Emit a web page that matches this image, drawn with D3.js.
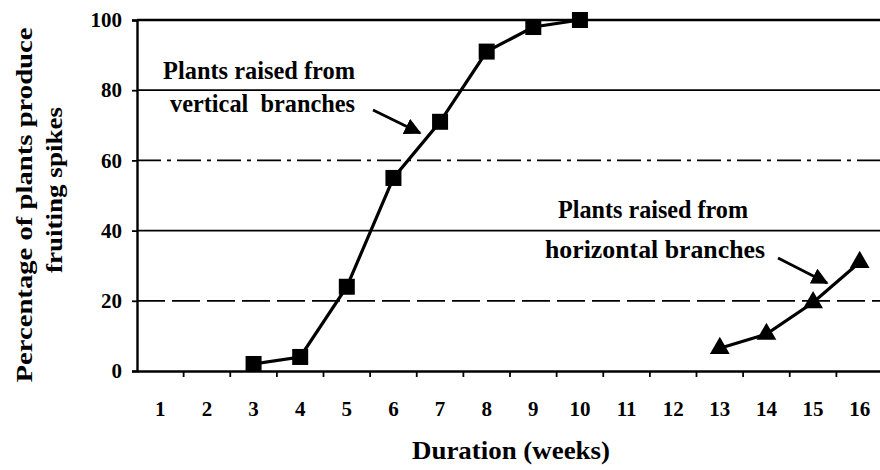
<!DOCTYPE html>
<html lang="en">
<head>
  <meta charset="UTF-8" />
  <title>Fruiting spikes vs duration</title>
  <script src="https://d3js.org/d3.v7.min.js"></script>
  <style>
    body { margin: 0; background: #fff; }
    svg text { font-family: "Liberation Serif", "Times New Roman", serif; font-weight: bold; fill: #000; }
  </style>
</head>
<body>
  <div id="chart"></div>
  <script>
    // ----- Data -----
    const weeks = d3.range(1, 17);
    const verticalWeeks  = [3, 4, 5, 6, 7, 8, 9, 10];
    const verticalPct    = [2, 4, 24, 55, 71, 91, 98, 100];
    const horizontalWeeks = [13, 14, 15, 16];
    const horizontalPct   = [6.5, 10.5, 19.5, 31];
    const yTicks = [0, 20, 40, 60, 80, 100];

    const FONT = '"Liberation Serif", "Times New Roman", serif';

    // ----- Setup -----
    const width = 880, height = 470;
    const svg = d3.select('#chart').append('svg')
      .attr('width', width).attr('height', height);

    const x = d3.scaleBand().domain(weeks).range([137, 883]).padding(0);
    const y = d3.scaleLinear().domain([0, 100]).range([371, 20]);
    const cx = w => x(w) + x.bandwidth() / 2;

    // ----- Gridlines -----
    const gridStyle = {
      100: { w: 2.4, dash: null },
      80:  { w: 1.8, dash: null },
      60:  { w: 1.8, dash: '24,6,4,6' },
      40:  { w: 1.8, dash: null },
      20:  { w: 1.8, dash: '28,7' }
    };
    yTicks.filter(t => t > 0).forEach(t => {
      svg.append('line')
        .attr('x1', 137).attr('x2', 880)
        .attr('y1', y(t)).attr('y2', y(t))
        .attr('stroke', '#000')
        .attr('stroke-width', gridStyle[t].w)
        .attr('stroke-dasharray', gridStyle[t].dash);
    });

    // ----- Axes -----
    const yAxis = svg.append('g')
      .attr('transform', 'translate(137,0)')
      .call(d3.axisLeft(y).tickValues(yTicks).tickSize(5).tickPadding(10));
    yAxis.attr('font-family', FONT);
    yAxis.select('.domain').attr('stroke-width', 2.4);
    yAxis.selectAll('.tick line').attr('stroke-width', 1.8);
    yAxis.selectAll('.tick text').attr('font-size', 21);

    const xAxis = svg.append('g')
      .attr('transform', 'translate(0,371)')
      .call(d3.axisBottom(x).tickSize(0).tickPadding(30));
    xAxis.attr('font-family', FONT);
    xAxis.select('.domain').attr('stroke-width', 2.4);
    xAxis.selectAll('.tick text').attr('font-size', 21);
    // ticks sit between categories
    xAxis.selectAll('.boundary')
      .data(weeks.slice(1))
      .join('line')
      .attr('x1', w => x(w)).attr('x2', w => x(w))
      .attr('y1', 0).attr('y2', 6)
      .attr('stroke', '#000').attr('stroke-width', 1.8);

    // ----- Series -----
    const line = d3.line().x(d => cx(d[0])).y(d => y(d[1]));
    const vData = d3.zip(verticalWeeks, verticalPct);
    const hData = d3.zip(horizontalWeeks, horizontalPct);

    svg.append('path').datum(vData)
      .attr('d', line).attr('fill', 'none')
      .attr('stroke', '#000').attr('stroke-width', 3.2);
    svg.selectAll('.sq').data(vData).join('rect')
      .attr('x', d => cx(d[0]) - 8).attr('y', d => y(d[1]) - 8)
      .attr('width', 16).attr('height', 16).attr('fill', '#000');

    svg.append('path').datum(hData)
      .attr('d', line).attr('fill', 'none')
      .attr('stroke', '#000').attr('stroke-width', 3.2);
    const tri = d3.symbol().type(d3.symbolTriangle).size(170);
    svg.selectAll('.tri').data(hData).join('path')
      .attr('d', tri)
      .attr('transform', d => `translate(${cx(d[0])},${y(d[1])})`)
      .attr('fill', '#000');

    // ----- Annotations -----
    svg.append('defs').append('marker')
      .attr('id', 'head').attr('viewBox', '0 0 10 10')
      .attr('refX', 9).attr('refY', 5)
      .attr('markerWidth', 6).attr('markerHeight', 6)
      .attr('markerUnits', 'strokeWidth').attr('orient', 'auto')
      .append('path').attr('d', 'M0,0L10,5L0,10z').attr('fill', '#000');

    const notes = [
      { text: 'Plants raised from', x: 163, y: 79, len: 192 },
      { text: 'vertical  branches', x: 170, y: 112, len: 185 },
      { text: 'Plants raised from', x: 558, y: 218, len: 190 },
      { text: 'horizontal branches', x: 545, y: 258, len: 220 }
    ];
    notes.forEach(n => {
      svg.append('text')
        .attr('x', n.x).attr('y', n.y)
        .attr('font-family', FONT).attr('font-size', 26)
        .attr('textLength', n.len).attr('lengthAdjust', 'spacingAndGlyphs')
        .attr('xml:space', 'preserve')
        .text(n.text);
    });
    const arrows = [[373, 110, 420, 133], [778, 258, 827, 283]];
    arrows.forEach(a => {
      svg.append('line')
        .attr('x1', a[0]).attr('y1', a[1]).attr('x2', a[2]).attr('y2', a[3])
        .attr('stroke', '#000').attr('stroke-width', 2.8)
        .attr('marker-end', 'url(#head)');
    });

    // ----- Axis titles -----
    svg.append('text')
      .attr('x', 511).attr('y', 459)
      .attr('text-anchor', 'middle')
      .attr('font-family', FONT).attr('font-size', 25)
      .attr('textLength', 198).attr('lengthAdjust', 'spacingAndGlyphs')
      .text('Duration (weeks)');

    svg.append('text')
      .attr('transform', 'translate(32,205) rotate(-90)')
      .attr('text-anchor', 'middle')
      .attr('font-family', FONT).attr('font-size', 24)
      .attr('textLength', 355).attr('lengthAdjust', 'spacingAndGlyphs')
      .text('Percentage of plants produce');
    svg.append('text')
      .attr('transform', 'translate(62,190) rotate(-90)')
      .attr('text-anchor', 'middle')
      .attr('font-family', FONT).attr('font-size', 24)
      .attr('textLength', 166).attr('lengthAdjust', 'spacingAndGlyphs')
      .text('fruiting spikes');
  </script>
</body>
</html>
